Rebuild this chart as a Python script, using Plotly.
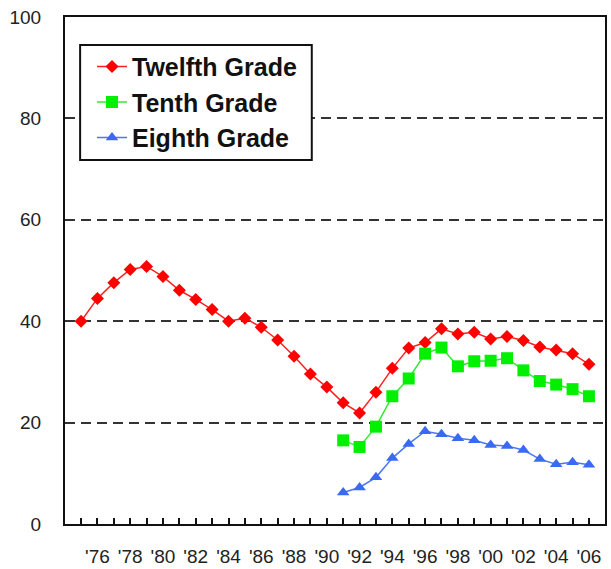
import plotly.graph_objects as go

years_12 = list(range(1975, 2007))
twelfth = [40.0, 44.5, 47.6, 50.2, 50.8, 48.8, 46.1, 44.3, 42.3, 40.0, 40.6, 38.8,
           36.3, 33.1, 29.6, 27.0, 23.9, 21.9, 26.0, 30.7, 34.7, 35.8, 38.5, 37.5,
           37.8, 36.5, 37.0, 36.2, 34.9, 34.3, 33.6, 31.5]
years_8_10 = list(range(1991, 2007))
tenth = [16.5, 15.2, 19.2, 25.2, 28.7, 33.6, 34.8, 31.1, 32.1, 32.2, 32.7, 30.3,
         28.2, 27.5, 26.6, 25.2]
eighth = [6.2, 7.2, 9.2, 13.0, 15.8, 18.3, 17.7, 16.9, 16.5, 15.6, 15.4, 14.6,
          12.8, 11.8, 12.2, 11.7]

x_tickvals = list(range(1975, 2007))
x_ticktext = [("'%02d" % (y % 100)) if y % 2 == 0 else "" for y in x_tickvals]
y_tickvals = [0, 20, 40, 60, 80, 100]

fig = go.Figure()
fig.add_trace(go.Scatter(x=years_12, y=twelfth, name="Twelfth Grade", mode="lines+markers",
                         line=dict(color="#FF2020", width=1.5),
                         marker=dict(symbol="diamond", size=10, color="#FF0000")))
fig.add_trace(go.Scatter(x=years_8_10, y=tenth, name="Tenth Grade", mode="lines+markers",
                         line=dict(color="#33E833", width=1.5),
                         marker=dict(symbol="square", size=12, color="#00F000")))
fig.add_trace(go.Scatter(x=years_8_10, y=eighth, name="Eighth Grade", mode="lines+markers",
                         line=dict(color="#4A78F0", width=1.5),
                         marker=dict(symbol="triangle-up", size=11, color="#3A6AF2")))

# legend frame
fig.add_shape(type="rect", xref="paper", yref="paper", x0=0.028, x1=0.457, y0=0.718, y1=0.945,
              line=dict(color="#111111", width=2), fillcolor="white", layer="above")

fig.update_layout(
    width=611, height=569,
    margin=dict(l=65, r=6, t=17, b=45, autoexpand=False),
    paper_bgcolor="white", plot_bgcolor="white",
    font=dict(family="Liberation Sans, Arial, sans-serif", color="#222222"),
    showlegend=True,
    legend=dict(x=0.05, y=0.947, xanchor="left", yanchor="top",
                bgcolor="rgba(0,0,0,0)", borderwidth=0,
                font=dict(size=25, family="Liberation Sans, Arial, sans-serif", color="#111111",
                          weight="bold"),
                traceorder="normal"),
    xaxis=dict(range=[1974.02, 2006.98], tickmode="array", tickvals=x_tickvals, ticktext=x_ticktext,
               ticks="inside", ticklen=6, tickwidth=1.5, tickcolor="#111111",
               showline=True, linecolor="#111111", linewidth=2, mirror=True, automargin=False,
               showgrid=False, zeroline=False, tickfont=dict(size=19, color="#222222"),
               ticklabelstandoff=14),
    yaxis=dict(range=[0, 100], tickmode="array", tickvals=y_tickvals, automargin=False,
               showline=True, linecolor="#111111", linewidth=2, mirror=True,
               showgrid=True, gridcolor="#333333", gridwidth=2, griddash="10px,6px",
               zeroline=False, ticks="", tickfont=dict(size=19, color="#222222"),
               ticklabelstandoff=18),
)

fig.write_html("out.html", config={"displayModeBar": False},
               post_script="document.body.style.margin='0px';document.body.style.overflow='hidden';")
